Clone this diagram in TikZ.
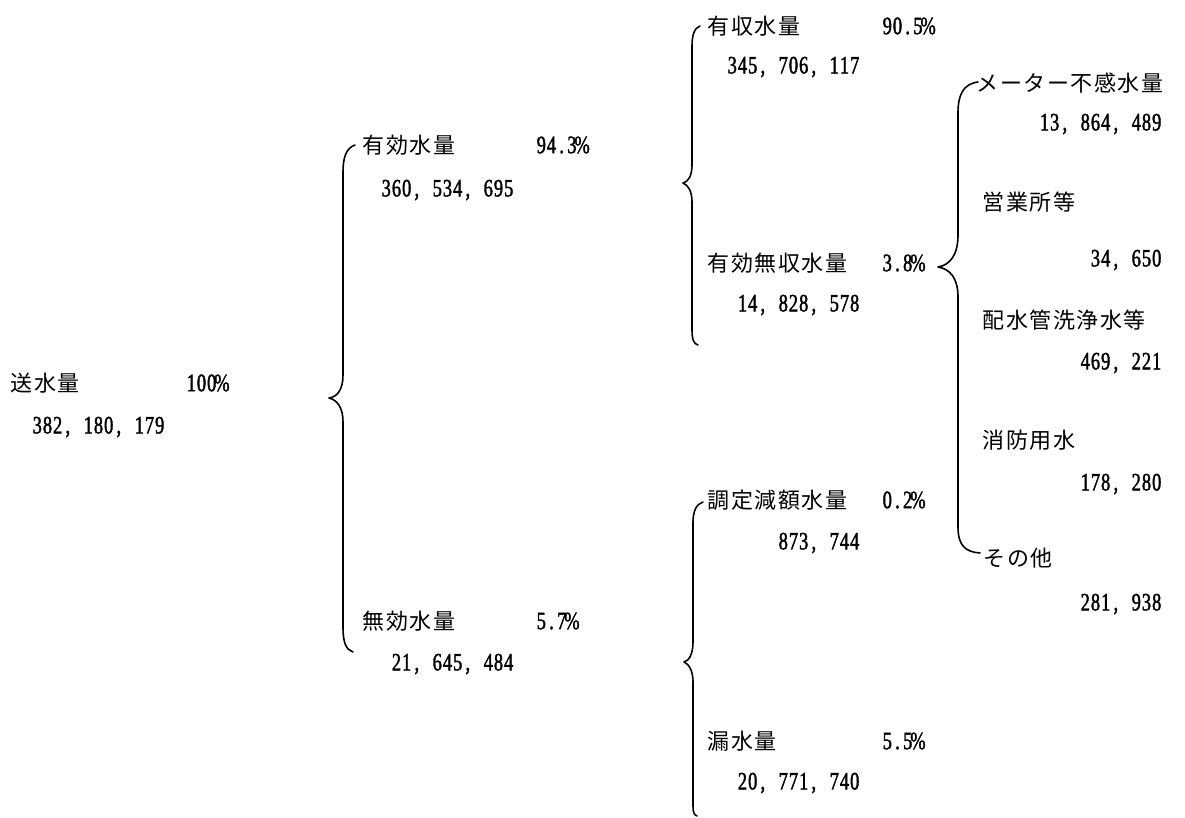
\documentclass[tikz,border=0pt]{standalone}
\usepackage{fontspec}
\newfontfamily\jpf{Noto Sans CJK JP}
\newfontfamily\numf{Liberation Serif}[FakeStretch=0.74,FakeBold=1.5]
\makeatletter
\newcommand\cells[2]{\@tfor\@cc:=#2\do{\makebox[#1][c]{\@cc}}}
\makeatother
\newcommand\jt[1]{\cells{23.5pt}{#1}}
\newcommand\nt[1]{\cells{10.2pt}{#1}}
\tikzset{
  jp/.style={inner sep=0pt, anchor=west, font=\jpf\fontsize{22}{24}\selectfont},
  pct/.style={inner sep=0pt, anchor=west, font=\numf\fontsize{25}{26}\selectfont},
  num/.style={inner sep=0pt, anchor=east, font=\numf\fontsize{25}{26}\selectfont},
  bracel/.style={line width=1.6pt, line cap=round, line join=round}
}
\begin{document}
\begin{tikzpicture}[x=1pt,y=-1pt]
\useasboundingbox[fill=white] (0,0) rectangle (1185,818);
% level 1
\node[jp]  (sosui)  at (10,383)  {\jt{送水量}};
\node[pct] (sosuip) at (186,383) {\nt{100\%}};
\node[num] (sosuin) at (165,427) {\nt{382,~180,~179}};
% level 2
\node[jp]  (yuko)   at (362,145) {\jt{有効水量}};
\node[pct] (yukop)  at (536,145) {\nt{94.3\%}};
\node[num] (yukon)  at (514,190) {\nt{360,~534,~695}};
\node[jp]  (muko)   at (362,621) {\jt{無効水量}};
\node[pct] (mukop)  at (536,621) {\nt{5.7\%}};
\node[num] (mukon)  at (514,664) {\nt{21,~645,~484}};
% level 3
\node[jp]  (yushu)  at (707,26)  {\jt{有収水量}};
\node[pct] (yushup) at (882,26)  {\nt{90.5\%}};
\node[num] (yushun) at (860,67)  {\nt{345,~706,~117}};
\node[jp]  (mushu)  at (707,263) {\jt{有効無収水量}};
\node[pct] (mushup) at (882,263) {\nt{3.8\%}};
\node[num] (mushun) at (860,305) {\nt{14,~828,~578}};
\node[jp]  (chotei) at (707,500) {\jt{調定減額水量}};
\node[pct] (choteip) at (882,500) {\nt{0.2\%}};
\node[num] (choten) at (860,543) {\nt{873,~744}};
\node[jp]  (rosui)  at (707,741) {\jt{漏水量}};
\node[pct] (rosuip) at (882,741) {\nt{5.5\%}};
\node[num] (rosuin) at (860,783) {\nt{20,~771,~740}};
% level 4
\node[jp]  (meter)  at (976,83)  {\jt{メーター不感水量}};
\node[num] (metern) at (1162,124) {\nt{13,~864,~489}};
\node[jp]  (eigyo)  at (982,202) {\jt{営業所等}};
\node[num] (eigyon) at (1162,260) {\nt{34,~650}};
\node[jp]  (haisui) at (982,320) {\jt{配水管洗浄水等}};
\node[num] (haisuin) at (1162,363) {\nt{469,~221}};
\node[jp]  (shobo)  at (982,440) {\jt{消防用水}};
\node[num] (shobon) at (1162,484) {\nt{178,~280}};
\node[jp]  (sonota) at (983,558) {\jt{その他}};
\node[num] (sonotan) at (1162,604) {\nt{281,~938}};
% braces
\coordinate (t1) at (329,398);
\draw[bracel] (355,145) .. controls (346,148) and (343,158) .. (343,172)
  -- (343,375) .. controls (343,390) and (337,397) .. (t1)
  .. controls (337,400) and (343,407) .. (343,422)
  -- (343,628) .. controls (343,642) and (346,650) .. (353,652);
\coordinate (t2) at (683,183);
\draw[bracel] (700,26) .. controls (694,28) and (692,36) .. (692,46)
  -- (692,165) .. controls (692,176) and (688,182) .. (t2)
  .. controls (688,185) and (692,191) .. (692,202)
  -- (692,330) .. controls (692,340) and (694,344) .. (698,345);
\coordinate (t3) at (684,662);
\draw[bracel] (703,502) .. controls (696,504) and (693,512) .. (693,522)
  -- (693,642) .. controls (693,654) and (689,661) .. (t3)
  .. controls (689,664) and (693,671) .. (693,682)
  -- (693,806) .. controls (693,812) and (694,815) .. (697,816);
\coordinate (t4) at (938,267);
\draw[bracel] (978,82) .. controls (963,84) and (958,95) .. (958,113)
  -- (958,235) .. controls (958,255) and (950,265) .. (t4)
  .. controls (950,269) and (958,278) .. (958,297)
  -- (958,527) .. controls (958,545) and (965,552) .. (980,553);
\end{tikzpicture}
\end{document}
